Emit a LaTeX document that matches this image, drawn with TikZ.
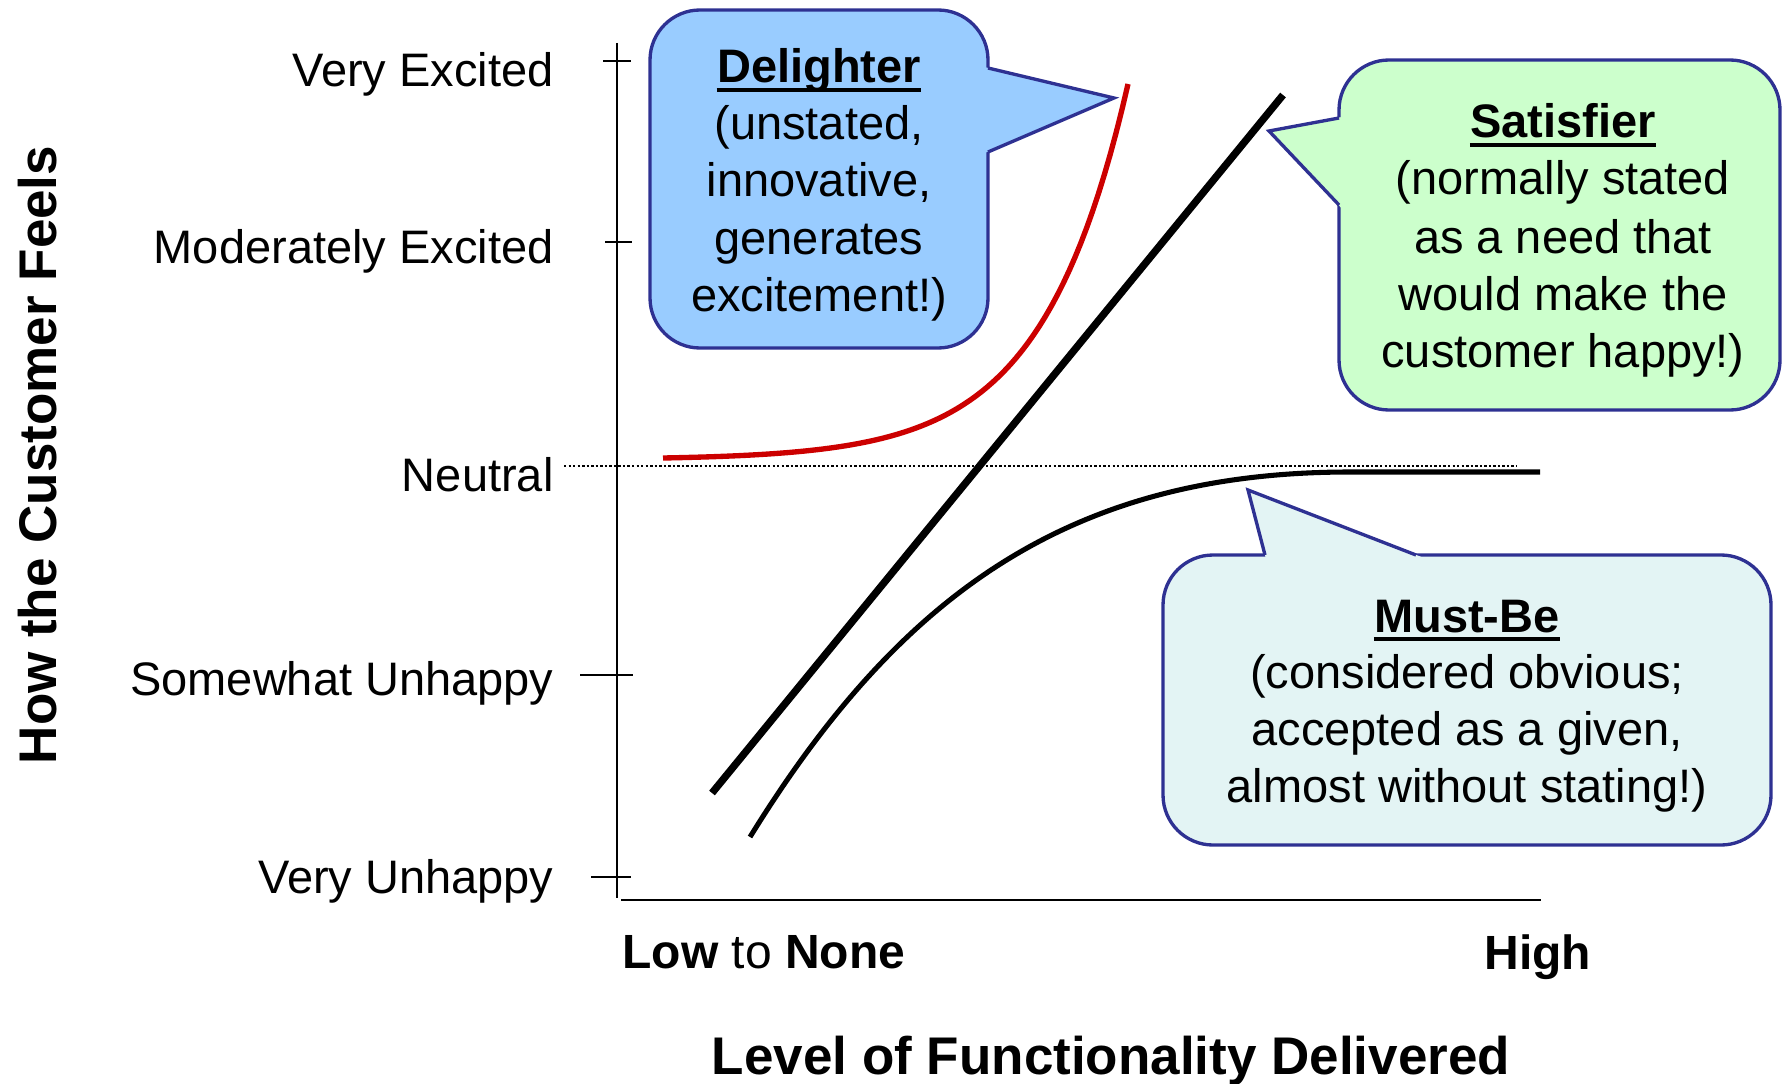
\documentclass[tikz,border=0pt]{standalone}
\usepackage{fontspec}
\setmainfont{Liberation Sans}
\usetikzlibrary{calc}

\definecolor{bubbleline}{HTML}{2E3192}
\definecolor{delightfill}{HTML}{99CCFF}
\definecolor{satisfyfill}{HTML}{CCFFCC}
\definecolor{mustfill}{HTML}{E3F4F4}
\definecolor{delightred}{HTML}{CC0000}

\tikzset{every picture/.style={line width=0.75pt}}
\tikzset{
  lvl/.style={anchor=base east, inner sep=0pt, font=\fontsize{35.25}{42}\selectfont},
  btxt/.style={anchor=base, inner sep=0pt, font=\fontsize{35.25}{42}\selectfont},
  bhead/.style={anchor=base, inner sep=0pt, font=\fontsize{35.25}{42}\selectfont\bfseries},
  bubble/.style={draw=bubbleline, line width=2.5pt, rounded corners=37.5pt},
  tipline/.style={draw=bubbleline, line width=2.5pt, line join=miter},
  tick/.style={line width=1.5pt},
}

\begin{document}
\begin{tikzpicture}[x=0.75pt,y=0.75pt,yscale=-1,xscale=1]
\useasboundingbox (0,0) rectangle (1783,1084);

% axes
\coordinate (top) at (617,43);
\coordinate (orig) at (617,898);
\coordinate (xa) at (621,900);
\coordinate (xb) at (1541,900);
\draw [line width=1.7pt] (top) -- (orig);
\draw [line width=1.7pt] (xa) -- (xb);

\draw [tick] (603,61) -- (631,61);
\draw [tick] (605,242) -- (632,242);
\draw [tick] (580,675) -- (633,675);
\draw [tick] (591,877) -- (631,877);
\draw [line width=1.8pt, dash pattern=on 1.8pt off 1.6pt] (564,466) -- (1517,466);

\draw (554,87) node (vexc) [lvl] {Very Excited};
\draw (554,263) node (mexc) [lvl] {Moderately Excited};
\draw (554,491) node (neut) [lvl] {Neutral};
\draw (554,695) node (swun) [lvl] {Somewhat Unhappy};
\draw (554,893) node (vun) [lvl] {Very Unhappy};

\draw (56,455) node (feel) [rotate=90, anchor=base, inner sep=0pt, font=\fontsize{39.75}{46}\selectfont\bfseries] {How the Customer Feels};
\draw (622,968) node (low) [anchor=base west, inner sep=0pt, font=\fontsize{36}{42}\selectfont] {\textbf{Low} to \textbf{None}};
\draw (1484,969) node (high) [anchor=base west, inner sep=0pt, font=\fontsize{36}{42}\selectfont\bfseries] {High};
\draw (1111,1074) node (func) [anchor=base, inner sep=0pt, font=\fontsize{39.75}{46}\selectfont\bfseries] {Level of Functionality Delivered};

% curves
\draw [delightred, line width=4pt] plot [domain=0:465, samples=80] ({663+\x}, {458-1.65*(exp(0.01168*\x)-1)});
\draw [line width=5.5pt] (712,793) -- (1283,95);
\draw [line width=3.8pt] (750,837) .. controls (900,594) and (1070,472) .. (1350,472) -- (1540,472);

% delighter bubble
\draw [bubble, fill=delightfill] (650,10) rectangle (988,348);
\fill [delightfill] (980,66) -- (1114,98) -- (980,155) -- cycle;
\draw [tipline] (988,68) -- (1114,98) -- (988,152);
\draw (819,83) node (delT) [bhead] {Delighter};
\draw [line width=3pt] ($(delT.base west)+(0,7)$) -- ($(delT.base east)+(0,7)$);
\draw (819,140) node (del1) [btxt] {(unstated,};
\draw (819,197) node (del2) [btxt] {innovative,};
\draw (819,254) node (del3) [btxt] {generates};
\draw (819,311) node (del4) [btxt] {excitement!)};

% satisfier bubble
\draw [bubble, fill=satisfyfill] (1339,60) rectangle (1780,410);
\fill [satisfyfill] (1347,116) -- (1269,131) -- (1347,214) -- cycle;
\draw [tipline] (1339,118) -- (1269,131) -- (1339,205);
\draw (1563,138) node (satT) [bhead] {Satisfier};
\draw [line width=3pt] ($(satT.base west)+(0,7)$) -- ($(satT.base east)+(0,7)$);
\draw (1563,195) node (sat1) [btxt] {(normally stated};
\draw (1563,253) node (sat2) [btxt] {as a need that};
\draw (1563,310) node (sat3) [btxt] {would make the};
\draw (1563,367) node (sat4) [btxt] {customer happy!)};

% must-be bubble
\draw [bubble, fill=mustfill] (1163,555) rectangle (1771,845);
\fill [mustfill] (1267,563) -- (1248,490) -- (1437,563) -- cycle;
\draw [tipline] (1265,555) -- (1248,490) -- (1416,555);
\draw (1467,632) node (mustT) [bhead] {Must-Be};
\draw [line width=3pt] ($(mustT.base west)+(0,7)$) -- ($(mustT.base east)+(0,7)$);
\draw (1467,688) node (must1) [btxt] {(considered obvious;};
\draw (1467,745) node (must2) [btxt] {accepted as a given,};
\draw (1467,802) node (must3) [btxt] {almost without stating!)};

\end{tikzpicture}
\end{document}
